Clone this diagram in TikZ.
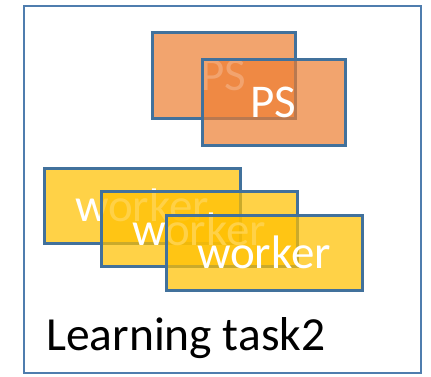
\documentclass[tikz,border=0pt]{standalone}
\usepackage{fontspec}
\setmainfont{Carlito}
\definecolor{bordblue}{HTML}{41719C}
\definecolor{outerblue}{HTML}{4F7DAE}
\definecolor{psorange}{HTML}{ED7D31}
\definecolor{wkyellow}{HTML}{FFC000}
\begin{document}
\begin{tikzpicture}[x=1pt,y=1pt,
  psbox/.style={draw=bordblue, line width=3pt, fill=psorange, fill opacity=0.7, text opacity=1,
    text=white, minimum width=143pt, minimum height=86pt, inner sep=0pt,
    font=\fontsize{47}{56}\selectfont},
  wkbox/.style={draw=bordblue, line width=3pt, fill=wkyellow, fill opacity=0.72, text opacity=1,
    text=white, minimum width=196pt, minimum height=75pt, inner sep=0pt,
    font=\fontsize{47}{56}\selectfont},
  outerbox/.style={draw=outerblue, line width=2.2pt}]
\useasboundingbox (0,0) rectangle (431,376);
\draw[outerbox] (24,3) rectangle (421,370);
\node[psbox] (ps1) at (223.5,301) {PS};
\node[psbox] (ps2) at (273.5,274) {PS};
\node[wkbox] (w1) at (142,170.5) {worker};
\node[wkbox] (w2) at (199,147) {worker};
\node[wkbox] (w3) at (264,123.5) {worker};
\node[anchor=base west, inner sep=0pt, font=\fontsize{47.5}{57}\selectfont] (lbl) at (46,26) {Learning task2};
\end{tikzpicture}
\end{document}
